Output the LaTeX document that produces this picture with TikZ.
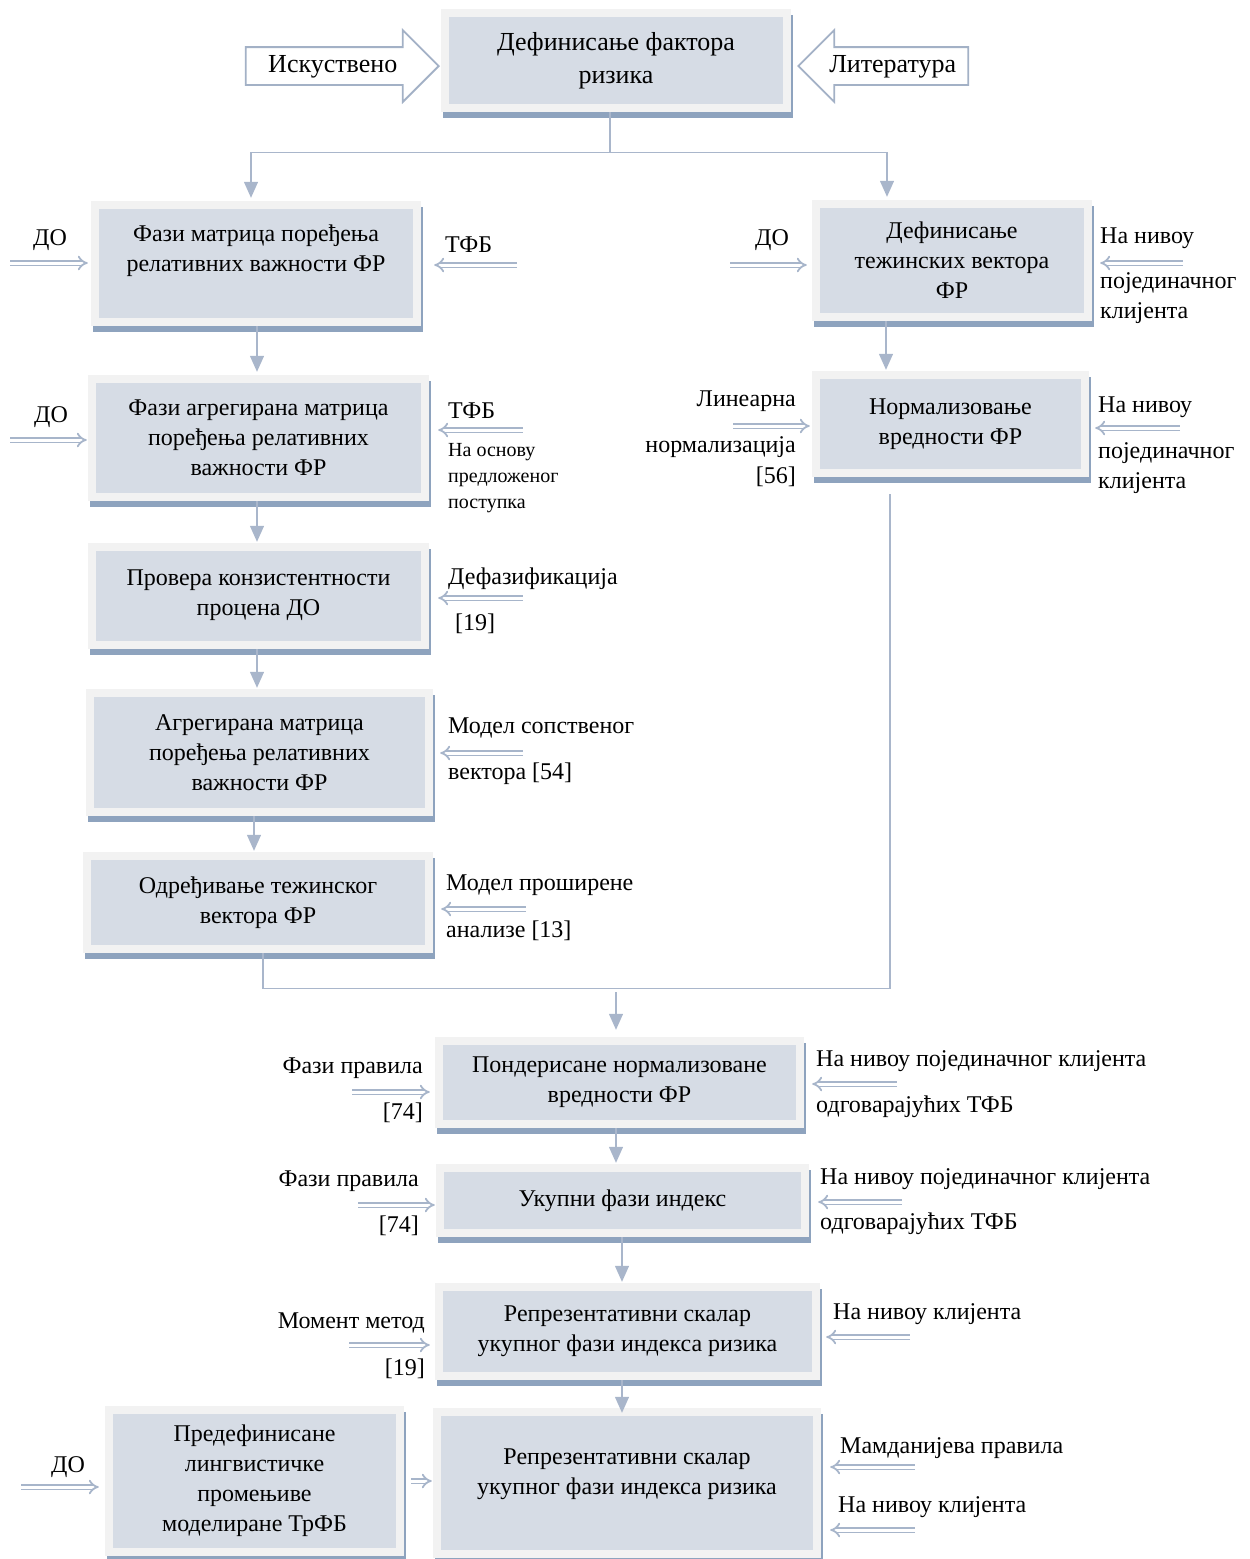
\documentclass[tikz,border=0pt]{standalone}
\usepackage{fontspec}
\setmainfont{Liberation Serif}
\usetikzlibrary{shapes.arrows,shadows,arrows.meta,calc}
\definecolor{innerc}{HTML}{D6DCE5}
\definecolor{framec}{HTML}{F2F2F2}
\definecolor{shadowc}{HTML}{8EA3BE}
\definecolor{linec}{HTML}{A9B6CB}
\definecolor{dblc}{HTML}{A7B5CA}
\definecolor{blkc}{HTML}{A3B1C6}
\begin{document}
\begin{tikzpicture}[x=1pt,y=-1pt,
  box/.style={fill=framec, inner sep=0pt, align=center,
    font=\fontsize{24}{30}\selectfont,
    drop shadow={shadow xshift=2pt, shadow yshift=-6pt, fill=shadowc, opacity=1},
    path picture={\fill[innerc] ([shift={(8pt,-8pt)}]path picture bounding box.north west) rectangle ([shift={(-8pt,8pt)}]path picture bounding box.south east);}},
  topbox/.style={box, font=\fontsize{26}{33}\selectfont},
  blockarrow/.style={single arrow, draw=blkc, line width=1.8pt, fill=white,
    font=\fontsize{26}{33}\selectfont, inner ysep=6pt, inner xsep=4pt,
    text height=18pt, text depth=6pt, single arrow head extend=17pt},
  conn/.style={draw=linec, line width=1.3pt, -{Triangle[length=16pt,width=14pt]}},
  plainline/.style={draw=linec, line width=1.3pt},
  dbl/.style={draw=dblc, line width=1.8pt, double=white, double distance=3pt, -{Implies}},
  lbl/.style={inner sep=0pt, font=\fontsize{24}{30}\selectfont, yshift=-2pt},
  slbl/.style={inner sep=0pt, font=\fontsize{20}{26}\selectfont, align=left, yshift=-2pt}]
\useasboundingbox (0,0) rectangle (1250,1559);

% ---- boxes
\node[topbox, minimum width=350pt, minimum height=103pt] (top) at (616,60.5) {Дефинисање фактора\\ризика};
\node[box, minimum width=330pt, minimum height=125pt] (b1) at (256,263.5) {Фази матрица поређења\\релативних важности ФР\\\mbox{}};
\node[box, minimum width=341pt, minimum height=126pt] (b2) at (258.5,438) {Фази агрегирана матрица\\поређења релативних\\важности ФР};
\node[box, minimum width=341pt, minimum height=106pt] (b3) at (258.5,596) {Провера конзистентности\\процена ДО\\[-24pt]\mbox{}};
\node[box, minimum width=347pt, minimum height=127pt] (b4) at (259.5,752.5) {Агрегирана матрица\\поређења релативних\\важности ФР};
\node[box, minimum width=350pt, minimum height=101pt] (b5) at (258,902.5) {Одређивање тежинског\\вектора ФР};
\node[box, minimum width=280pt, minimum height=121pt] (r1) at (952,260.5) {Дефинисање\\тежинских вектора\\ФР};
\node[box, minimum width=277pt, minimum height=106pt] (r2) at (950.5,424) {Нормализовање\\вредности ФР};
\node[box, minimum width=369pt, minimum height=91pt] (c1) at (619.5,1082.5) {Пондерисане нормализоване\\вредности ФР};
\node[box, minimum width=373pt, minimum height=73pt] (c2) at (622.5,1200.5) {Укупни фази индекс};
\node[box, minimum width=385pt, minimum height=97pt] (c3) at (627.5,1331.5) {Репрезентативни скалар\\укупног фази индекса ризика};
\node[box, minimum width=388pt, minimum height=150pt] (c4) at (627,1483) {Репрезентативни скалар\\укупног фази индекса ризика\\[-8pt]\mbox{}};
\node[box, minimum width=299pt, minimum height=150pt] (d) at (254.5,1481) {Предефинисане\\лингвистичке\\промењиве\\моделиране ТрФБ};

% ---- block arrows at the top
\node[blockarrow, minimum height=193pt, anchor=tip, inner xsep=10pt] (isk) at (440,66) {Искуствено};
\node[blockarrow, minimum height=170pt, shape border rotate=180, anchor=tip] (lit) at (797,66) {Литература};

% ---- connectors
\draw[conn, shorten >=3pt] ([xshift=-6pt]top.south) -- ++(0,40) -| ([xshift=-5pt]b1.north);
\draw[conn, shorten >=3pt] ([xshift=-6pt]top.south) -- ++(0,40) -| ([xshift=-65pt]r1.north);
\draw[conn, shorten >=3pt] ([xshift=1pt]b1.south) -- ([xshift=1pt]b1.south |- b2.north);
\draw[conn, shorten >=1pt] ([xshift=-1.5pt]b2.south) -- ([xshift=-1.5pt]b2.south |- b3.north);
\draw[conn, shorten >=1pt] ([xshift=-1.5pt]b3.south) -- ([xshift=-1.5pt]b3.south |- b4.north);
\draw[conn, shorten >=1pt] ([xshift=-5.5pt]b4.south) -- ([xshift=-5.5pt]b4.south |- b5.north);
\draw[conn, shorten >=1pt] ([xshift=-66pt]r1.south) -- ([xshift=-66pt]r1.south |- r2.north);
\draw[plainline] ([xshift=5pt]b5.south) -- ++(0,35) -| ([xshift=-60.5pt,yshift=-17pt]r2.south);
\coordinate (mrg) at (616,992);
\draw[conn, shorten >=7pt] (mrg) -- (mrg |- c1.north);
\draw[conn, shorten >=1pt] ([xshift=-3.5pt]c1.south) -- ([xshift=-3.5pt]c1.south |- c2.north);
\draw[conn, shorten >=1pt] ([xshift=-0.5pt]c2.south) -- ([xshift=-0.5pt]c2.south |- c3.north);
\draw[conn, shorten >=-5pt] ([xshift=-5.5pt]c3.south) -- ([xshift=-5.5pt]c3.south |- c4.north);

% ---- small double arrows
\coordinate (s1) at (10,263);    \draw[dbl, shorten >=3pt] (s1) -- (s1 -| b1.west);
\coordinate (s2) at (517,265);   \draw[dbl, shorten >=13pt] (s2) -- (s2 -| b1.east);
\coordinate (s3) at (730,265);   \draw[dbl, shorten >=5pt] (s3) -- (s3 -| r1.west);
\coordinate (s4) at (1183,263);  \draw[dbl, shorten >=8pt] (s4) -- (s4 -| r1.east);
\coordinate (s5) at (10,440);    \draw[dbl, shorten >=1pt] (s5) -- (s5 -| b2.west);
\coordinate (s6) at (523,430);   \draw[dbl, shorten >=9pt] (s6) -- (s6 -| b2.east);
\coordinate (s7) at (733,426);   \draw[dbl, shorten >=2pt] (s7) -- (s7 -| r2.west);
\coordinate (s8) at (1180,428);  \draw[dbl, shorten >=6pt] (s8) -- (s8 -| r2.east);
\coordinate (s9) at (523,598);   \draw[dbl, shorten >=9pt] (s9) -- (s9 -| b3.east);
\coordinate (s10) at (523,753);  \draw[dbl, shorten >=7pt] (s10) -- (s10 -| b4.east);
\coordinate (s11) at (526,909);  \draw[dbl, shorten >=8pt] (s11) -- (s11 -| b5.east);
\coordinate (s12) at (352,1092); \draw[dbl, shorten >=5pt] (s12) -- (s12 -| c1.west);
\coordinate (s13) at (897,1084); \draw[dbl, shorten >=8pt] (s13) -- (s13 -| c1.east);
\coordinate (s14) at (358,1205); \draw[dbl, shorten >=1pt] (s14) -- (s14 -| c2.west);
\coordinate (s15) at (902,1202); \draw[dbl, shorten >=9pt] (s15) -- (s15 -| c2.east);
\coordinate (s16) at (349,1345); \draw[dbl, shorten >=5pt] (s16) -- (s16 -| c3.west);
\coordinate (s17) at (910,1337); \draw[dbl, shorten >=6pt] (s17) -- (s17 -| c3.east);
\coordinate (s18) at (21,1487);  \draw[dbl, shorten >=6pt] (s18) -- (s18 -| d.west);
\draw[dbl, shorten <=7pt, shorten >=1pt] (d.east) -- (d.east -| c4.west);
\coordinate (s20) at (915,1467); \draw[dbl, shorten >=9pt] (s20) -- (s20 -| c4.east);
\coordinate (s21) at (915,1530); \draw[dbl, shorten >=9pt] (s21) -- (s21 -| c4.east);

% ---- labels
\node[lbl] (t1) at (50,238) {ДО};
\node[lbl, anchor=west] (t2) at (445,243) {ТФБ};
\node[lbl] (t3) at (772,238) {ДО};
\node[lbl, anchor=west] (t4a) at (1100,236) {На нивоу};
\node[lbl, anchor=west] (t4b) at (1100,281) {појединачног};
\node[lbl, anchor=west] (t4c) at (1100,311) {клијента};
\node[lbl] (t5) at (51,415) {ДО};
\node[lbl, anchor=west] (t6) at (448,409) {ТФБ};
\node[slbl, anchor=west] (t6b) at (448,476) {На основу\\предложеног\\поступка};
\node[lbl, anchor=east] (t7a) at (796,399) {Линеарна};
\node[lbl, anchor=east] (t7b) at (796,445) {нормализација};
\node[lbl, anchor=east] (t7c) at (796,475) {[56]};
\node[lbl, anchor=west] (t8a) at (1098,405) {На нивоу};
\node[lbl, anchor=west] (t8b) at (1098,451) {појединачног};
\node[lbl, anchor=west] (t8c) at (1098,481) {клијента};
\node[lbl, anchor=west] (t9a) at (448,577) {Дефазификација};
\node[lbl, anchor=west] (t9b) at (455,622) {[19]};
\node[lbl, anchor=west] (t10a) at (448,726) {Модел сопственог};
\node[lbl, anchor=west] (t10b) at (448,772) {вектора [54]};
\node[lbl, anchor=west] (t11a) at (446,883) {Модел проширене};
\node[lbl, anchor=west] (t11b) at (446,929) {анализе [13]};
\node[lbl, anchor=east] (t12a) at (423,1066) {Фази правила};
\node[lbl, anchor=east] (t12b) at (423,1111) {[74]};
\node[lbl, anchor=west] (t13a) at (816,1059) {На нивоу појединачног клијента};
\node[lbl, anchor=west] (t13b) at (816,1105) {одговарајућих ТФБ};
\node[lbl, anchor=east] (t14a) at (419,1179) {Фази правила};
\node[lbl, anchor=east] (t14b) at (419,1224) {[74]};
\node[lbl, anchor=west] (t15a) at (820,1177) {На нивоу појединачног клијента};
\node[lbl, anchor=west] (t15b) at (820,1222) {одговарајућих ТФБ};
\node[lbl, anchor=east] (t16a) at (425,1321) {Момент метод};
\node[lbl, anchor=east] (t16b) at (425,1367) {[19]};
\node[lbl, anchor=west] (t17) at (833,1312) {На нивоу клијента};
\node[lbl] (t18) at (68,1465) {ДО};
\node[lbl, anchor=west] (t20) at (840,1446) {Мамданијева правила};
\node[lbl, anchor=west] (t21) at (838,1505) {На нивоу клијента};
\end{tikzpicture}
\end{document}
